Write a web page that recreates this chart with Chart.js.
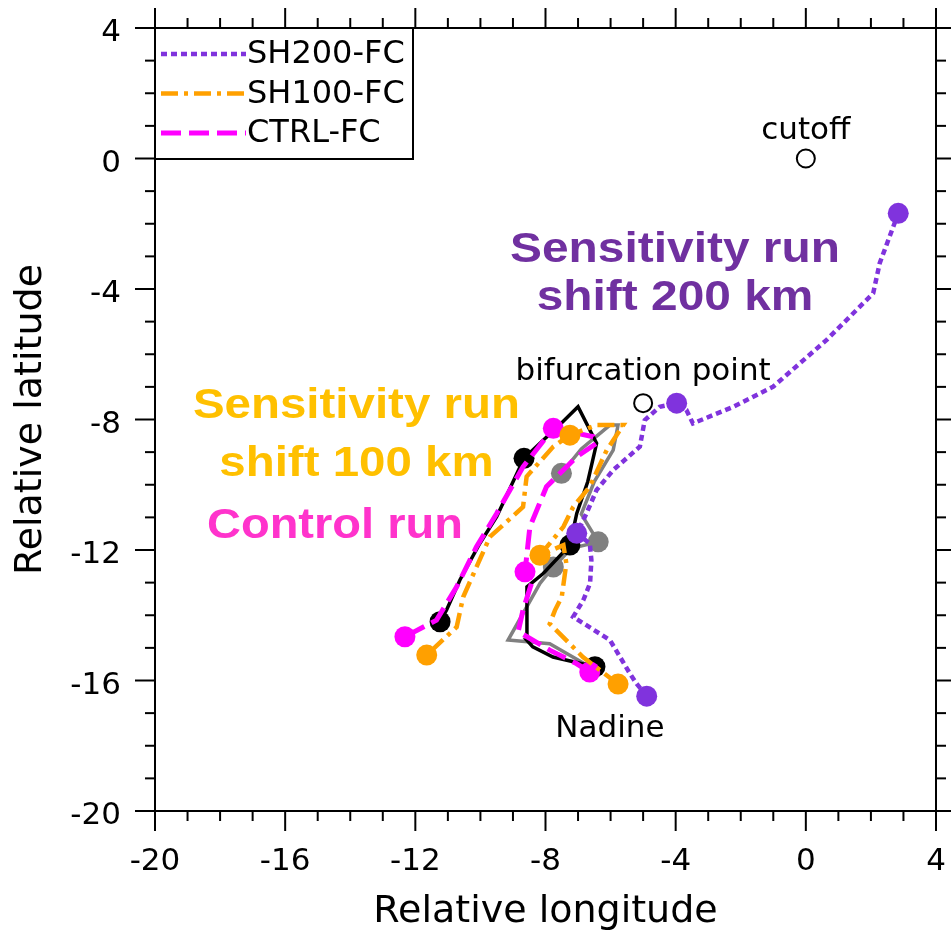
<!DOCTYPE html>
<html>
<head>
<meta charset="utf-8">
<script src="https://cdn.jsdelivr.net/npm/chart.js@4.4.1/dist/chart.umd.min.js"></script>
<style>
  html, body { margin: 0; padding: 0; background: #fff; }
  #wrap { width: 951px; height: 940px; }
</style>
</head>
<body>
<div id="wrap"><canvas id="track-chart" width="951" height="940"></canvas></div>
<script>
// tracks relative to the cutoff low (deg lon / deg lat)
const xTickValues = [-20, -16, -12, -8, -4, 0, 4];
const yTickValues = [4, 0, -4, -8, -12, -16, -20];

const sh200Lon = [-4.89, -5.2, -5.41, -6.02, -7.15, -6.84, -6.63, -6.59, -6.64, -7.04, -6.74, -6.43, -5.92, -5.1, -4.95, -4.49, -3.97, -3.67, -3.47, -2.23, -1.0, 0.64, 2.07, 2.27, 2.84];
const sh200Lat = [-16.48, -16.1, -15.78, -14.76, -14.05, -13.54, -13.02, -12.31, -11.8, -11.49, -10.88, -10.16, -9.55, -8.83, -8.02, -7.61, -7.5, -7.71, -8.12, -7.61, -6.99, -5.56, -4.13, -3.21, -1.68];
const sh200Dots = [0, 9, 16, 24];

const sh100Lon = [-5.77, -6.85, -7.87, -7.71, -7.5, -7.36, -7.45, -8.17, -7.45, -7.15, -6.64, -6.12, -5.61, -6.43, -7.25, -7.76, -8.58, -8.69, -9.71, -10.53, -10.73, -11.65];
const sh100Lat = [-16.11, -15.28, -14.26, -13.85, -13.43, -12.41, -11.85, -12.16, -11.29, -10.68, -10.06, -8.94, -8.17, -8.17, -8.48, -8.83, -9.75, -10.68, -11.6, -13.44, -14.36, -15.22];
const sh100Dots = [0, 7, 14, 21];

const ctrlLon = [-6.64, -7.05, -7.87, -8.84, -8.69, -8.43, -8.63, -8.48, -7.97, -7.04, -6.43, -6.53, -7.76, -8.69, -9.5, -10.12, -10.73, -11.35, -12.32];
const ctrlLat = [-15.74, -15.48, -15.07, -14.5, -13.84, -13.02, -12.67, -11.29, -10.06, -9.14, -8.73, -8.53, -8.27, -9.45, -10.88, -11.9, -13.13, -14.15, -14.66];
const ctrlDots = [0, 6, 12, 18];

const obsLon = [-6.48, -7.77, -8.39, -8.58, -8.57, -8.07, -7.25, -7.04, -6.7, -6.43, -7.0, -7.5, -8.66, -9.5, -10.02, -10.63, -11.04, -11.24];
const obsLat = [-15.58, -15.28, -14.97, -14.76, -13.13, -12.72, -11.85, -10.88, -9.9, -8.73, -7.61, -8.1, -9.19, -10.98, -11.8, -12.92, -13.84, -14.2];
const obsDots = [0, 6, 12, 17];

const refLon = [-6.6, -7.87, -9.15, -8.17, -7.76, -7.2, -6.38, -6.9, -6.5, -5.92, -5.77, -6.02, -6.9, -7.51];
const refLat = [-15.6, -14.87, -14.76, -13.02, -12.52, -11.95, -11.75, -10.9, -9.9, -8.94, -8.17, -8.17, -8.9, -9.65];
const refDots = [4, 6, 13];

// cutoff centre and bifurcation point
const openLon = [0, -5.0];
const openLat = [0, -7.5];

const legendNames = ["SH200-FC", "SH100-FC", "CTRL-FC"];

const notes = [
  { text: "cutoff", x: 0, y: 0.6, font: '31px "DejaVu Sans"', color: "#000", stretch: 1 },
  { text: "bifurcation point", x: -5.0, y: -6.79, font: '31px "DejaVu Sans"', color: "#000", stretch: 1 },
  { text: "Nadine", x: -6.02, y: -17.74, font: '31px "DejaVu Sans"', color: "#000", stretch: 1 },
  { text: "Sensitivity run", x: -4.02, y: -3.17, font: 'bold 42px "Liberation Sans"', color: "#7030A0", stretch: 1.14 },
  { text: "shift 200 km", x: -4.02, y: -4.64, font: 'bold 42px "Liberation Sans"', color: "#7030A0", stretch: 1.14 },
  { text: "Sensitivity run", x: -13.81, y: -7.95, font: 'bold 42px "Liberation Sans"', color: "#FFC000", stretch: 1.13 },
  { text: "shift 100 km", x: -13.81, y: -9.73, font: 'bold 42px "Liberation Sans"', color: "#FFC000", stretch: 1.13 },
  { text: "Control run", x: -14.47, y: -11.63, font: 'bold 42px "Liberation Sans"', color: "#FF33CC", stretch: 1.12 },
];

function toPoints(lon, lat) {
  return lon.map((x, i) => ({ x, y: lat[i] }));
}

function dotRadii(count, dots, r) {
  return Array.from({ length: count }, (_, i) => (dots.includes(i) ? r : 0));
}

function trackDataset(label, lon, lat, dots, color, width, dash) {
  return {
    label,
    data: toPoints(lon, lat),
    showLine: true,
    borderColor: color,
    borderWidth: width,
    borderDash: dash,
    backgroundColor: color,
    pointRadius: dotRadii(lon.length, dots, 10.5),
    pointBackgroundColor: color,
    pointBorderWidth: 0,
    tension: 0,
  };
}

const noteLabels = {
  id: "note-labels",
  afterDatasetsDraw(chart) {
    const { ctx, scales } = chart;
    ctx.save();
    notes.forEach((note) => {
      ctx.save();
      ctx.translate(scales.x.getPixelForValue(note.x), scales.y.getPixelForValue(note.y));
      ctx.scale(note.stretch, 1);
      ctx.font = note.font;
      ctx.fillStyle = note.color;
      ctx.textAlign = "center";
      ctx.textBaseline = "alphabetic";
      ctx.fillText(note.text, 0, 0);
      ctx.restore();
    });
    ctx.restore();
  },
};

const boxLegend = {
  id: "box-legend",
  afterDraw(chart) {
    const { ctx, chartArea } = chart;
    const left = chartArea.left;
    const top = chartArea.top;
    ctx.save();
    ctx.fillStyle = "#fff";
    ctx.fillRect(left, top, 258, 131);
    ctx.strokeStyle = "#000";
    ctx.lineWidth = 2;
    ctx.strokeRect(left, top, 258, 131);
    legendNames.forEach((name, i) => {
      const ds = chart.data.datasets.find((d) => d.label === name);
      const y = top + 26 + i * 39.5;
      ctx.strokeStyle = ds.borderColor;
      ctx.lineWidth = ds.borderWidth;
      ctx.setLineDash(ds.borderDash || []);
      ctx.beginPath();
      ctx.moveTo(left + 6, y);
      ctx.lineTo(left + 91, y);
      ctx.stroke();
      ctx.setLineDash([]);
      ctx.fillStyle = "#000";
      ctx.font = '32px "DejaVu Sans"';
      ctx.textAlign = "left";
      ctx.textBaseline = "middle";
      ctx.fillText(name, left + 92, y + 1);
    });
    ctx.restore();
  },
};

const frameTicks = {
  id: "frame-ticks",
  afterDraw(chart) {
    const { ctx, chartArea: a, scales } = chart;
    const line = (x1, y1, x2, y2) => {
      ctx.beginPath();
      ctx.moveTo(x1, y1);
      ctx.lineTo(x2, y2);
      ctx.stroke();
    };
    ctx.save();
    ctx.strokeStyle = "#000";
    ctx.lineWidth = 2;
    ctx.strokeRect(a.left, a.top, a.right - a.left, a.bottom - a.top);
    for (let v = scales.x.min; v <= scales.x.max; v++) {
      const len = v % 4 === 0 ? 20 : 10;
      const px = scales.x.getPixelForValue(v);
      line(px, a.bottom, px, a.bottom + len);
      line(px, a.top, px, a.top - len);
    }
    for (let v = scales.y.min; v <= scales.y.max; v++) {
      const len = v % 4 === 0 ? 20 : 10;
      const py = scales.y.getPixelForValue(v);
      line(a.left, py, a.left - len, py);
      line(a.right, py, a.right + len, py);
    }
    ctx.restore();
  },
};

Chart.defaults.font.family = '"DejaVu Sans"';
Chart.defaults.color = "#000";

new Chart(document.getElementById("track-chart"), {
  type: "scatter",
  data: {
    datasets: [
      {
        label: "markers",
        data: toPoints(openLon, openLat),
        showLine: false,
        pointRadius: 9,
        pointBackgroundColor: "#fff",
        pointBorderColor: "#000",
        pointBorderWidth: 2,
      },
      trackDataset("SH200-FC", sh200Lon, sh200Lat, sh200Dots, "#8033DD", 4.5, [6, 4]),
      trackDataset("SH100-FC", sh100Lon, sh100Lat, sh100Dots, "#FFA000", 4.5, [17, 6, 4, 6]),
      trackDataset("CTRL-FC", ctrlLon, ctrlLat, ctrlDots, "#FF00FF", 5, [20, 8]),
      trackDataset("OBS", obsLon, obsLat, obsDots, "#000000", 3.5, []),
      trackDataset("REF", refLon, refLat, refDots, "#808080", 3.5, []),
    ],
  },
  options: {
    responsive: false,
    animation: false,
    devicePixelRatio: 1,
    events: [],
    layout: { padding: { top: 28, right: 15, left: 0, bottom: 0 } },
    plugins: {
      legend: { display: false },
      tooltip: { enabled: false },
    },
    scales: {
      x: {
        type: "linear",
        min: -20,
        max: 4,
        afterBuildTicks: (scale) => {
          scale.ticks = xTickValues.map((value) => ({ value }));
        },
        afterFit: (scale) => {
          scale.height = 129;
          scale.paddingLeft = 0;
          scale.paddingRight = 0;
        },
        ticks: {
          font: { size: 31 },
          color: "#000",
          padding: 32,
          maxRotation: 0,
          autoSkip: false,
          callback: (v) => String(v),
        },
        grid: { display: false, drawTicks: false },
        border: { display: false },
        title: {
          display: true,
          text: "Relative longitude",
          font: { size: 38 },
          color: "#000",
          padding: { top: 0, bottom: 5 },
        },
      },
      y: {
        type: "linear",
        min: -20,
        max: 4,
        afterBuildTicks: (scale) => {
          scale.ticks = yTickValues.map((value) => ({ value }));
        },
        afterFit: (scale) => {
          scale.width = 155;
          scale.paddingTop = 0;
          scale.paddingBottom = 0;
        },
        ticks: {
          font: { size: 31 },
          color: "#000",
          padding: 34,
          labelOffset: 5,
          autoSkip: false,
          callback: (v) => String(v),
        },
        grid: { display: false, drawTicks: false },
        border: { display: false },
        title: {
          display: true,
          text: "Relative latitude",
          font: { size: 38 },
          color: "#000",
          padding: { top: 8, bottom: 0 },
        },
      },
    },
  },
  plugins: [noteLabels, boxLegend, frameTicks],
});
</script>
</body>
</html>
